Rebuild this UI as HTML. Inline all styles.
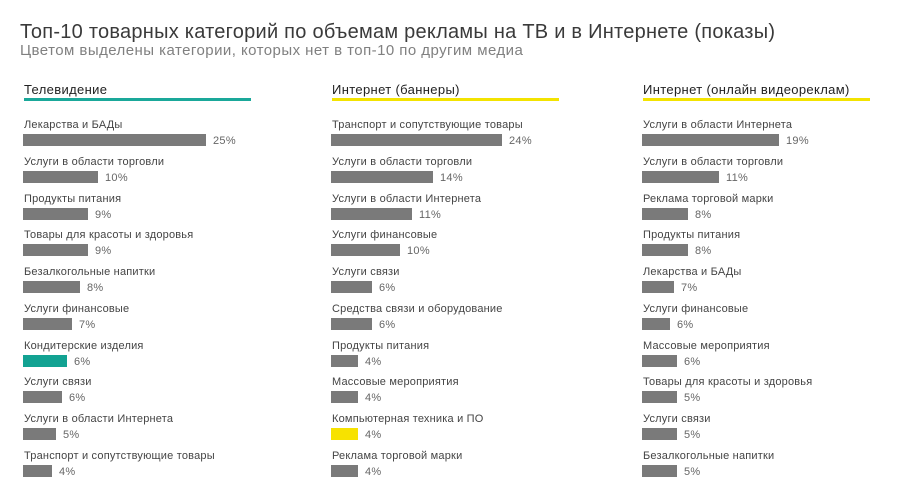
<!DOCTYPE html>
<html><head><meta charset="utf-8"><style>
body{margin:0;width:918px;height:503px;background:#fff;font-family:"Liberation Sans","Noto Sans CJK SC",sans-serif;position:relative;overflow:hidden}
.a{position:absolute;white-space:nowrap}
.t{font-size:20px;color:#3a3a3a;left:20px;top:21px;letter-spacing:0.25px}
.s{font-size:15px;color:#808080;left:20px;top:42px;letter-spacing:0.45px}
.h{font-size:13px;color:#222;letter-spacing:0.35px}
.ln{position:absolute;height:3px}
.l{font-size:11px;color:#444;letter-spacing:0.2px}
.b{position:absolute;height:12px;background:#7a7a7a}
.p{font-size:11px;color:#666;letter-spacing:0.3px}
</style></head><body>
<div class="a t">Топ-10 товарных категорий по объемам рекламы на ТВ и в Интернете (показы)</div>
<div class="a s">Цветом выделены категории, которых нет в топ-10 по другим медиа</div>
<div id="c"></div>
<script>
const cols=[
 {x:23,head:"Телевидение",lc:"#1aa89a",lw:227,rows:[
  ["Лекарства и БАДы","25%",206],["Услуги в области торговли","10%",98],["Продукты питания","9%",88],["Товары для красоты и здоровья","9%",88],["Безалкогольные напитки","8%",80],["Услуги финансовые","7%",72],["Кондитерские изделия","6%",67,"#12a292"],["Услуги связи","6%",62],["Услуги в области Интернета","5%",56],["Транспорт и сопутствующие товары","4%",52]]},
 {x:331,head:"Интернет (баннеры)",lc:"#f3e300",lw:227,rows:[
  ["Транспорт и сопутствующие товары","24%",502],["Услуги в области торговли","14%",433],["Услуги в области Интернета","11%",412],["Услуги финансовые","10%",400],["Услуги связи","6%",372],["Средства связи и оборудование","6%",372],["Продукты питания","4%",358],["Массовые мероприятия","4%",358],["Компьютерная техника и ПО","4%",358,"#f7e200"],["Реклама торговой марки","4%",358]]},
 {x:642,head:"Интернет (онлайн видеореклам)",lc:"#f3e300",lw:227,rows:[
  ["Услуги в области Интернета","19%",779],["Услуги в области торговли","11%",719],["Реклама торговой марки","8%",688],["Продукты питания","8%",688],["Лекарства и БАДы","7%",674],["Услуги финансовые","6%",670],["Массовые мероприятия","6%",677],["Товары для красоты и здоровья","5%",677],["Услуги связи","5%",677],["Безалкогольные напитки","5%",677]]}
];
let h="";
cols.forEach(c=>{
 h+=`<div class="a h" style="left:${c.x+1}px;top:82px">${c.head}</div><div class="ln" style="left:${c.x+1}px;top:98px;width:${c.lw}px;background:${c.lc}"></div>`;
 c.rows.forEach((r,i)=>{
  const y=119+i*36.75;
  h+=`<div class="a l" style="left:${c.x+1}px;top:${y}px">${r[0]}</div>`;
  h+=`<div class="b" style="left:${c.x}px;top:${y+15}px;width:${r[2]-c.x}px;${r[3]?'background:'+r[3]:''}"></div>`;
  h+=`<div class="a p" style="left:${r[2]+7}px;top:${y+16}px">${r[1]}</div>`;
 });
});
document.getElementById("c").innerHTML=h;
</script>
</body></html>
